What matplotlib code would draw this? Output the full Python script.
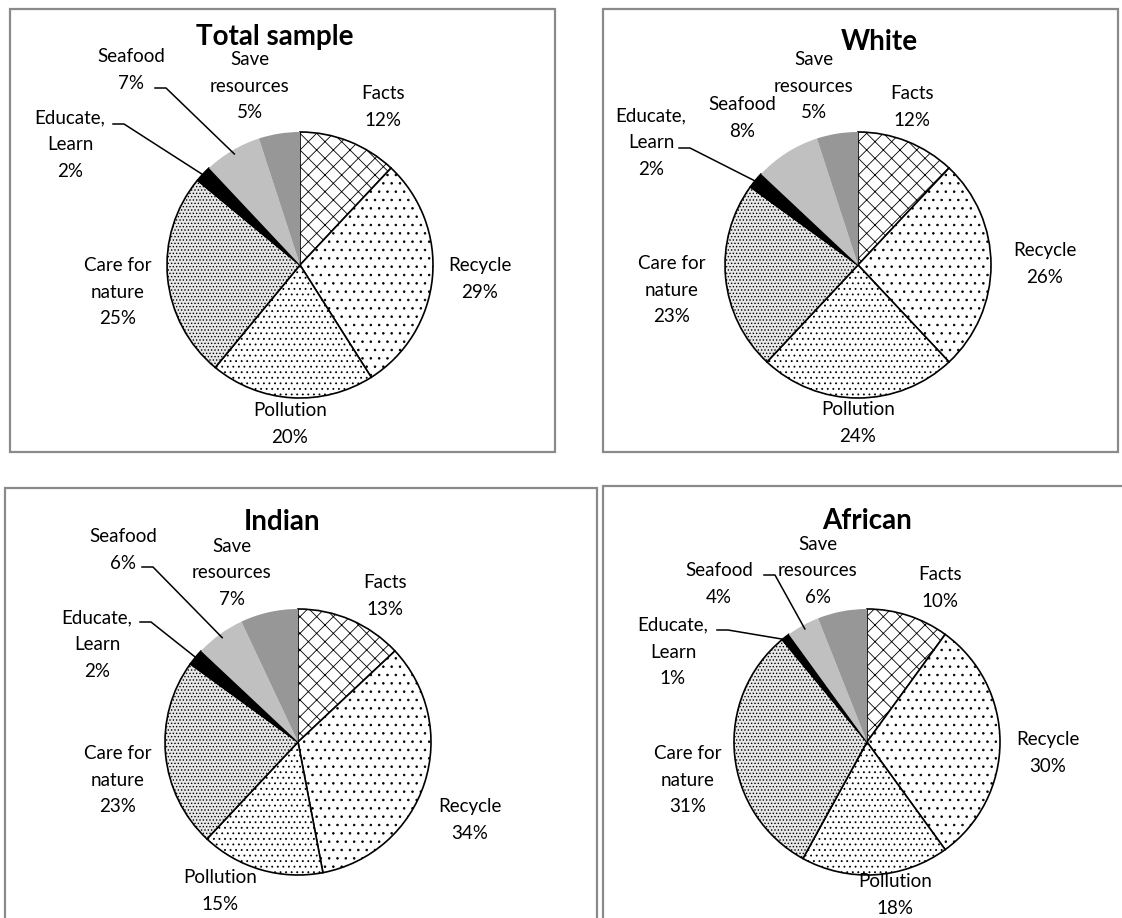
import numpy as np
import matplotlib.pyplot as plt
from matplotlib.patches import Rectangle

plt.rcParams['font.family'] = ['Lato', 'DejaVu Sans']
plt.rcParams['hatch.linewidth'] = 0.6
plt.rcParams['hatch.color'] = 'black'

W, H = 1122, 918

# ===== Data =====
categories = ['Facts', 'Recycle', 'Pollution', 'Care for\nnature',
              'Educate,\nLearn', 'Seafood', 'Save\nresources']
groups = ['Total sample', 'White', 'Indian', 'African']
total_sample = [12, 29, 20, 25, 2, 7, 5]
white = [12, 26, 24, 23, 2, 8, 5]
indian = [13, 34, 15, 23, 2, 6, 7]
african = [10, 30, 18, 31, 1, 4, 6]
shares = [total_sample, white, indian, african]

# wedge styling, same order as categories
fills = ['white', 'white', 'white', '#e8e8e8', 'black', '#c0c0c0', '#979797']
hatches = ['xx', '..', '...', '.....', None, None, None]
edges = ['black', 'black', 'black', 'black', 'black', 'none', 'none']

# ===== Layout (pixels, y measured from the top) =====
layout = [
    dict(box=(10, 9, 555, 452), center=(300, 265), r=133, title=(275, 37),
         labels=[(383, 107), (480, 279), (290, 424), (118, 292),
                 (70, 145), (131, 70), (250, 86)],
         leaders={4: (113, 124), 5: (155, 88)}),
    dict(box=(603, 9, 1118, 452), center=(858, 265), r=133, title=(879, 42),
         labels=[(912, 107), (1045, 264), (858, 423), (672, 290),
                 (651, 143), (742, 118), (814, 86)],
         leaders={4: (679, 148)}),
    dict(box=(5, 488, 597, 925), center=(298, 742), r=133, title=(282, 522),
         labels=[(385, 596), (470, 820), (220, 891), (118, 780),
                 (97, 645), (123, 550), (232, 573)],
         leaders={4: (140, 622), 5: (142, 567)}),
    dict(box=(603, 486, 1130, 925), center=(867, 742), r=133, title=(867, 521),
         labels=[(940, 588), (1048, 753), (895, 895), (688, 780),
                 (673, 652), (719, 584), (818, 571)],
         leaders={4: (717, 630), 5: (764, 575)}),
]


def wedge_point(values, i, cx, cy, r, frac=0.97):
    # point on the outer part of wedge i, in top-down pixel coords
    total = sum(values)
    mid = (sum(values[:i]) + values[i] / 2) / total
    ang = np.deg2rad(90 - 360 * mid)
    return cx + frac * r * np.cos(ang), cy - frac * r * np.sin(ang)


fig = plt.figure(figsize=(W / 100, H / 100), dpi=100)
ax = fig.add_axes([0, 0, 1, 1])

for name, values, lay in zip(groups, shares, layout):
    x0, y0, x1, y1 = lay['box']
    ax.add_patch(Rectangle((x0, H - y1), x1 - x0, y1 - y0, fill=False,
                           edgecolor='#8a8a8a', linewidth=1.6))

    cx, cy = lay['center']
    wedges, _ = ax.pie(values, colors=fills, hatch=hatches, startangle=90,
                       counterclock=False, center=(cx, H - cy), radius=lay['r'],
                       wedgeprops=dict(linewidth=1.2), frame=True)
    for w, ec in zip(wedges, edges):
        w.set_edgecolor(ec)

    tx, ty = lay['title']
    ax.text(tx, H - ty, name, ha='center', va='center', fontsize=20,
            fontweight='bold')

    for i, (lx, ly) in enumerate(lay['labels']):
        ax.text(lx, H - ly, f'{categories[i]}\n{values[i]}%', ha='center',
                va='center', fontsize=13.5, linespacing=1.7,
                multialignment='center')

    for i, (ax0, ay0) in lay['leaders'].items():
        ex, ey = wedge_point(values, i, cx, cy, lay['r'])
        xs = [ax0, ax0 + 11, ex]
        ys = [H - ay0, H - ay0, H - ey]
        ax.plot(xs, ys, color='black', linewidth=1.1)

ax.set_xlim(0, W)
ax.set_ylim(0, H)
ax.set_aspect('equal')
ax.axis('off')

fig.savefig('out.png', dpi=100)
